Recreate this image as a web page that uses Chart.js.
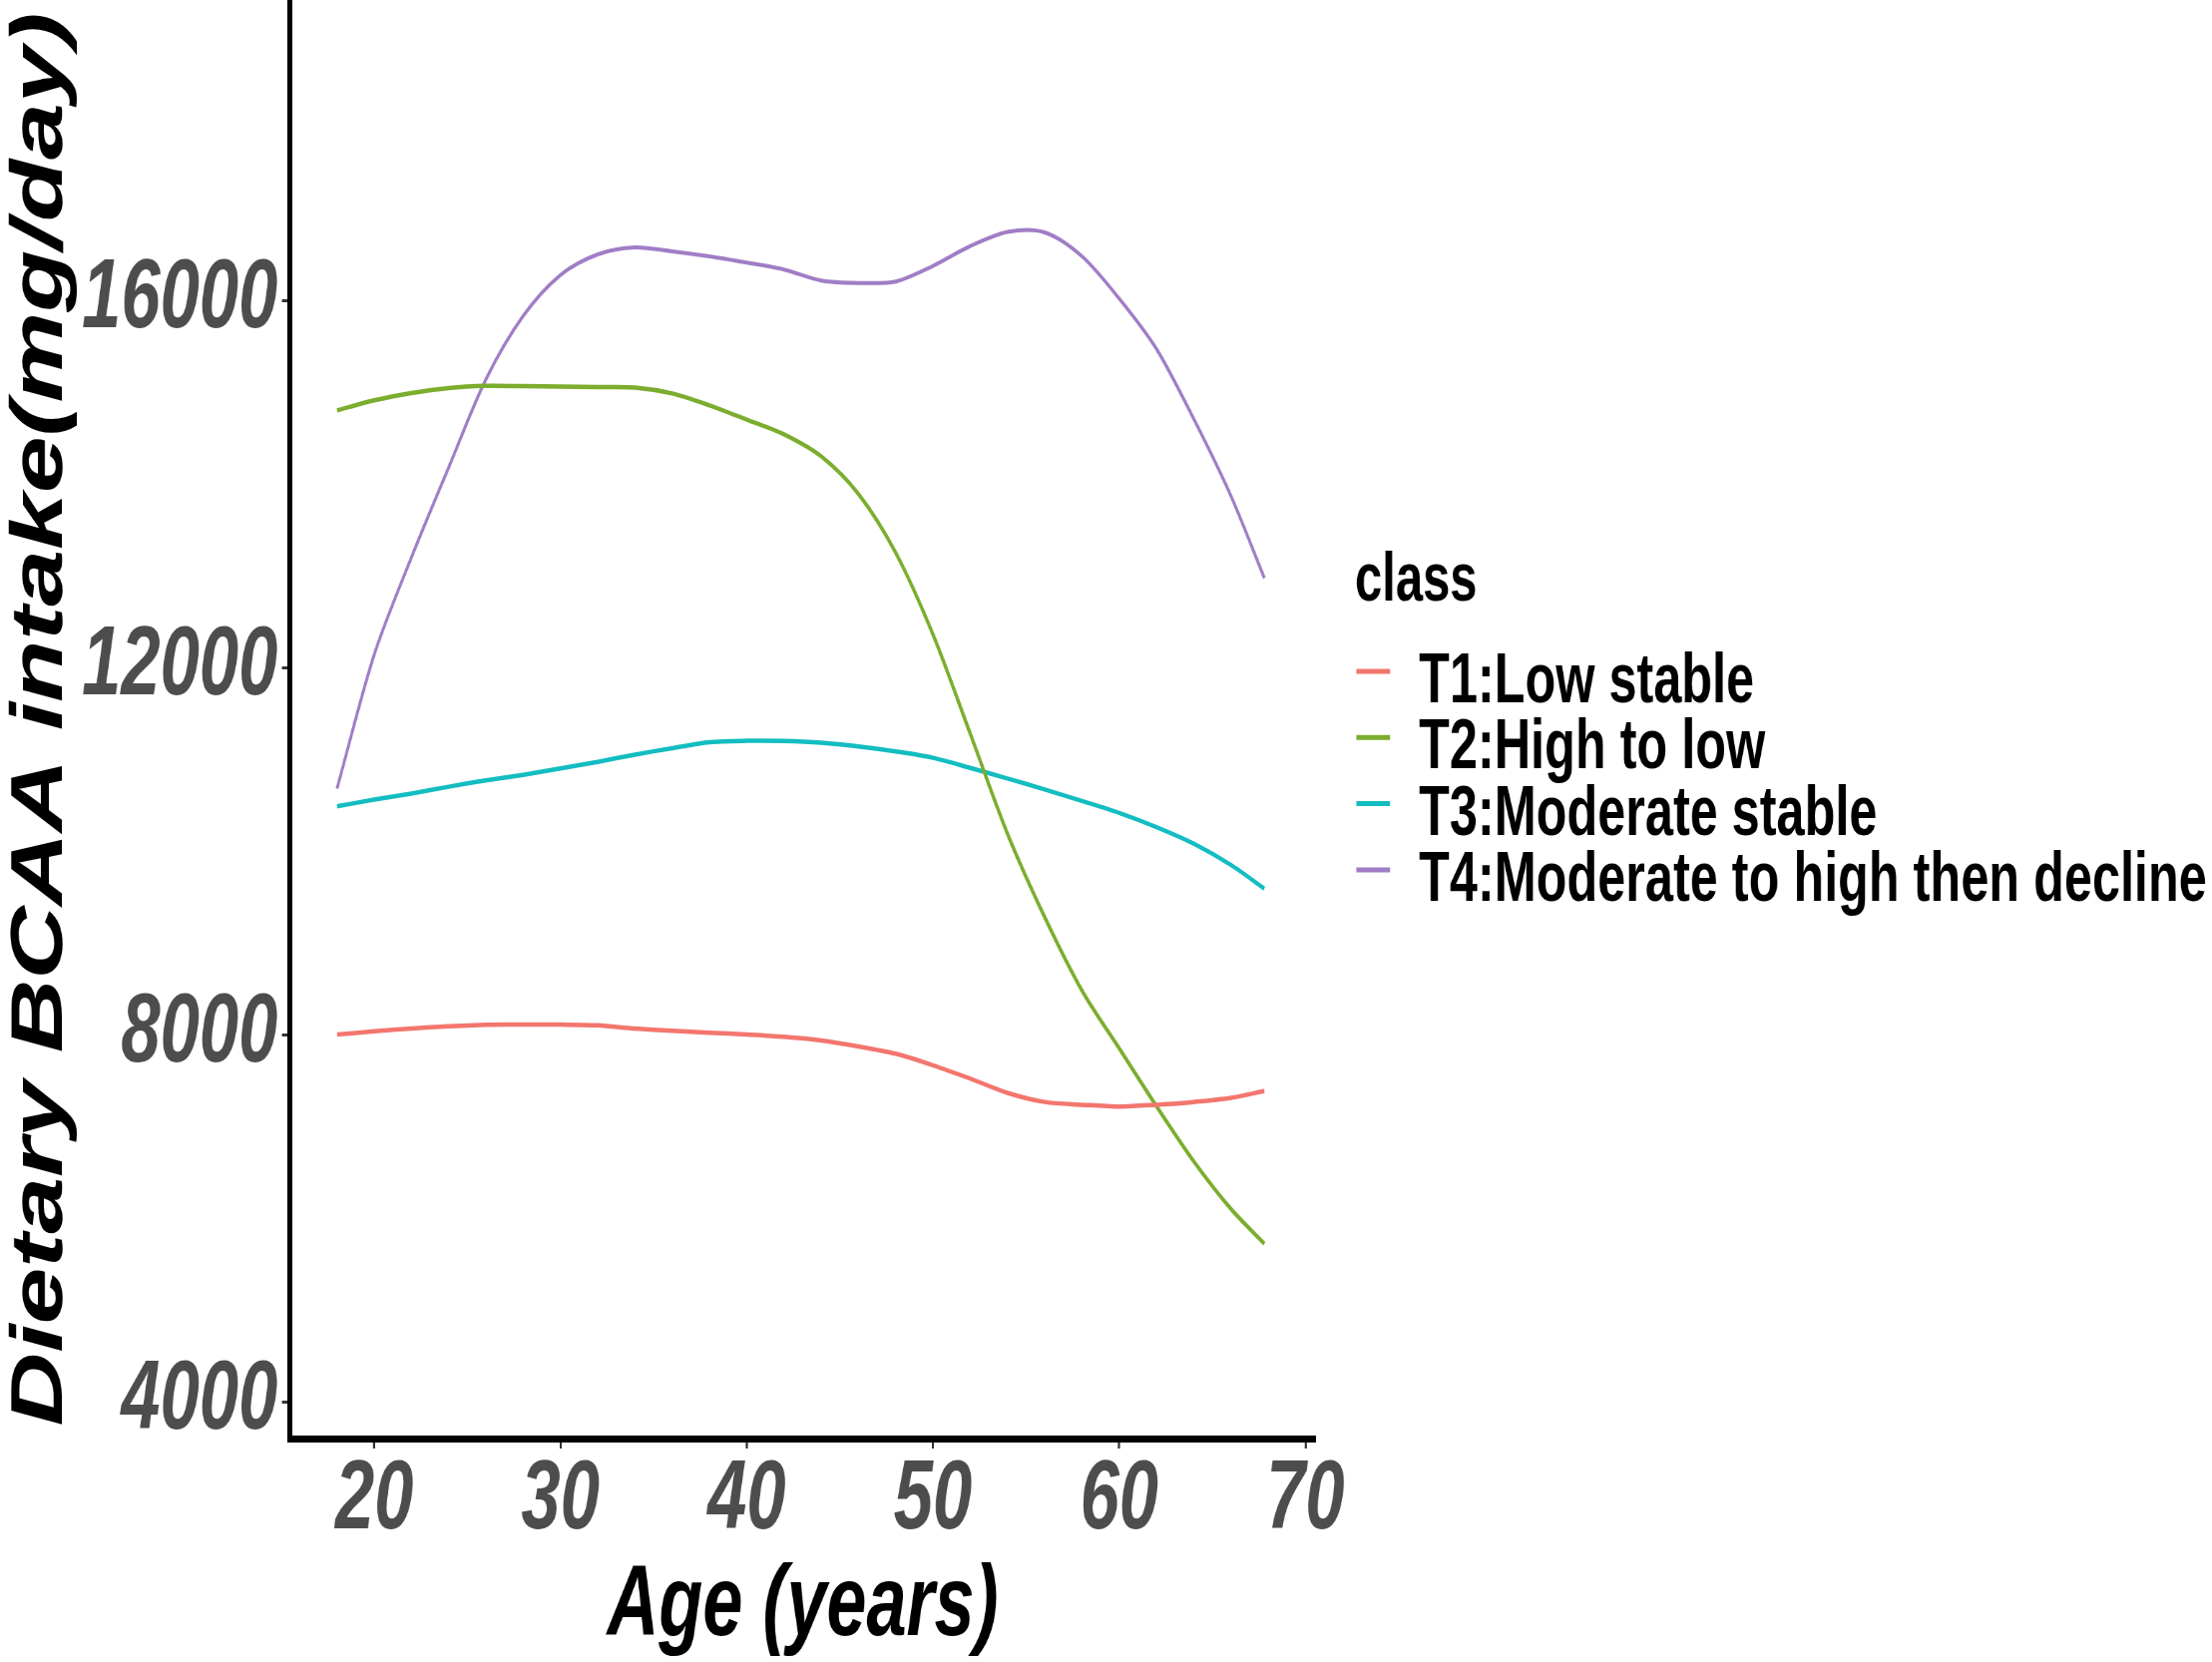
<!DOCTYPE html>
<html>
<head>
<meta charset="utf-8">
<script src="https://cdn.jsdelivr.net/npm/chart.js@4.4.1/dist/chart.umd.min.js"></script>
<style>
  html, body { margin: 0; padding: 0; background: #ffffff; overflow: hidden; }
  #c { display: block; }
</style>
</head>
<body>
<canvas id="c"></canvas>
<script>
// ---------------- data ----------------
const ages = [18, 20, 22, 24, 26, 28, 30, 32, 34, 36, 38, 40, 42, 44, 46, 48, 50, 52, 54, 56, 58, 60, 62, 64, 66, 67.8];

const t1LowStable = [8000, 8035, 8065, 8090, 8105, 8110, 8108, 8100, 8065, 8040, 8020, 8000, 7975, 7935, 7870, 7790, 7665, 7520, 7365, 7265, 7235, 7215, 7235, 7265, 7310, 7385];
const t2HighToLow = [14800, 14910, 14990, 15045, 15068, 15065, 15060, 15055, 15050, 14985, 14855, 14700, 14540, 14300, 13890, 13250, 12360, 11280, 10190, 9280, 8480, 7850, 7220, 6620, 6100, 5720];
const t3ModerateStable = [10486, 10560, 10625, 10700, 10770, 10830, 10900, 10970, 11050, 11120, 11185, 11200, 11198, 11180, 11140, 11085, 11015, 10905, 10790, 10670, 10545, 10415, 10260, 10080, 9848, 9590];
const t4ModerateHighDecline = [10680, 12140, 13200, 14180, 15140, 15830, 16275, 16500, 16576, 16533, 16478, 16410, 16335, 16215, 16189, 16205, 16375, 16590, 16745, 16740, 16480, 16020, 15472, 14710, 13870, 12973];

const seriesLabels = ["T1:Low stable", "T2:High to low", "T3:Moderate stable", "T4:Moderate to high then decline"];
const seriesColors = ["#F3766E", "#7BAD2E", "#13BDC1", "#A07DC6"];
const seriesValues = [t1LowStable, t2HighToLow, t3ModerateStable, t4ModerateHighDecline];

const xTicks = [20, 30, 40, 50, 60, 70];
const yTicks = [4000, 8000, 12000, 16000];
const xTitle = "Age (years)";
const yTitle = "Dietary BCAA intake(mg/day)";
const legendTitle = "class";

// ---------------- layout ----------------
const SQUEEZE = 0.72;                 // reference is horizontally compressed
const OUT_W = 2217, OUT_H = 1666;
const W = Math.round(OUT_W / SQUEEZE);
const H = OUT_H;
const FONT = "'Liberation Sans', Arial, Helvetica, sans-serif";

const canvas = document.getElementById('c');
canvas.setAttribute('width', W);
canvas.setAttribute('height', H);
canvas.style.width = OUT_W + 'px';
canvas.style.height = OUT_H + 'px';

const datasets = seriesValues.map((vals, i) => ({
  label: seriesLabels[i],
  data: ages.map((a, j) => ({ x: a, y: vals[j] })),
  borderColor: seriesColors[i],
  backgroundColor: seriesColors[i],
  borderWidth: i === 3 ? 4 : 4.5,
  pointRadius: 0,
  fill: false,
  tension: 0.3
}));

const legendPlugin = {
  id: 'ggLegend',
  afterDraw(chart) {
    const ctx = chart.ctx;
    ctx.save();
    ctx.fillStyle = '#000';
    ctx.textAlign = 'left';
    ctx.textBaseline = 'alphabetic';
    ctx.font = "bold 68px " + FONT;
    ctx.fillText(legendTitle, 1886, 602);
    ctx.font = "bold 70px " + FONT;
    const rowY0 = 673, rowStep = 66.3;
    chart.data.datasets.forEach((ds, i) => {
      const y = rowY0 + i * rowStep;
      ctx.strokeStyle = ds.borderColor;
      ctx.lineWidth = 5;
      ctx.beginPath();
      ctx.moveTo(1888, y);
      ctx.lineTo(1935, y);
      ctx.stroke();
      ctx.fillStyle = '#000';
      ctx.fillText(ds.label, 1975, y + 31);
    });
    ctx.restore();
  }
};

const tickFont = { family: FONT, size: 98, weight: 'bold', style: 'italic', lineHeight: 1 };

new Chart(canvas, {
  type: 'line',
  data: { datasets },
  options: {
    responsive: false,
    animation: false,
    devicePixelRatio: 1,
    layout: { padding: { left: 0, top: 0, bottom: 0, right: W - Math.round(1318 / SQUEEZE) } },
    plugins: {
      legend: { display: false },
      tooltip: { enabled: false }
    },
    scales: {
      x: {
        type: 'linear',
        min: 15.47,
        max: 70.54,
        afterBuildTicks: (s) => { s.ticks = xTicks.map(v => ({ value: v })); },
        afterFit: (s) => { s.height = H - 1442; s.paddingLeft = 0; s.paddingRight = 0; },
        grid: { display: true, drawOnChartArea: false, drawTicks: true, tickLength: 10, tickWidth: 3, tickColor: '#333' },
        border: { display: true, color: '#000', width: 7 },
        ticks: { font: tickFont, color: '#4d4d4d', padding: 4, maxRotation: 0, autoSkip: false,
                 callback: (v) => String(v) },
        title: { display: true, text: xTitle, color: '#000',
                 font: { family: FONT, size: 100, weight: 'bold', style: 'italic', lineHeight: 1 },
                 padding: { top: 0, bottom: 5 } }
      },
      y: {
        type: 'linear',
        min: 3598,
        max: 19272,
        afterBuildTicks: (s) => { s.ticks = yTicks.map(v => ({ value: v })); },
        afterFit: (s) => { s.width = 290.5 / SQUEEZE; s.paddingTop = 0; s.paddingBottom = 0; },
        grid: { display: true, drawOnChartArea: false, drawTicks: true, tickLength: 11, tickWidth: 3, tickColor: '#333' },
        border: { display: true, color: '#000', width: 7 },
        ticks: { font: tickFont, color: '#4d4d4d', padding: 6, autoSkip: false,
                 callback: (v) => String(v) },
        title: { display: true, text: yTitle, color: '#000',
                 font: { family: FONT, size: 102, weight: 'bold', style: 'italic', lineHeight: 1 },
                 padding: { top: 7, bottom: 0 } }
      }
    }
  },
  plugins: [legendPlugin]
});
</script>
</body>
</html>
